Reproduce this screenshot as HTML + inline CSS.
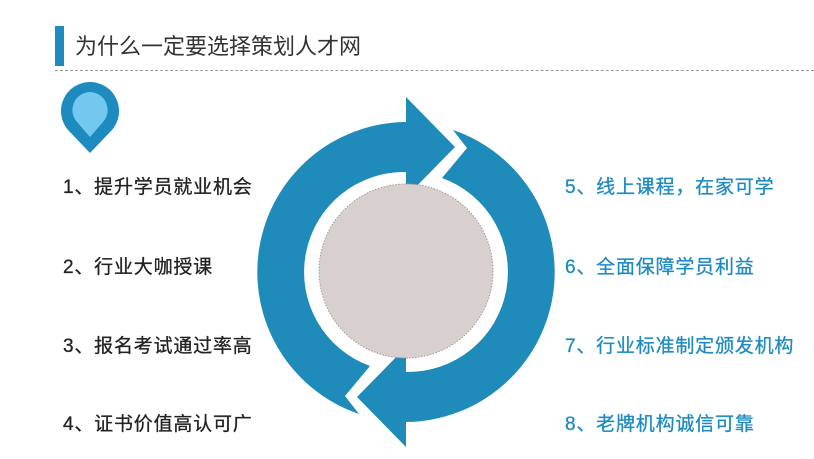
<!DOCTYPE html>
<html><head><meta charset="utf-8"><style>
html,body{margin:0;padding:0;background:#fff;}
body{width:814px;height:459px;position:relative;overflow:hidden;font-family:"Liberation Sans","Noto Sans CJK SC",sans-serif;}
.t{position:absolute;font-size:19px;white-space:nowrap;line-height:20px;letter-spacing:0.8px;-webkit-text-stroke:0.3px;}
.l{left:63px;color:#222;}
.r{left:565px;color:#1e8bc0;}
</style></head><body>
<div style="position:absolute;left:55px;top:26px;width:9px;height:40px;background:#1e8bc0"></div>
<div style="position:absolute;left:75px;top:33px;font-size:22px;color:#333;line-height:28px;white-space:nowrap">为什么一定要选择策划人才网</div>
<div style="position:absolute;left:55px;top:70px;width:759px;border-top:1px dashed #999"></div>
<svg width="814" height="459" style="position:absolute;left:0;top:0">
<path d="M90 82 A29 29 0 0 1 111 131 L90 153 L69 131 A29 29 0 0 1 90 82Z" fill="#1e8bc0"/>
<path d="M90 92 A18 18 0 0 1 103 122 L90 137 L77 122 A18 18 0 0 1 90 92Z" fill="#72c8ef"/>
<path d="M406 122 A150 150 0 0 0 359 414 L345 396 L370 366 A100 100 0 0 1 406 172Z" fill="#1e8bbb"/>
<polygon points="406,97 455,147 406,197" fill="#1e8bbb"/>
<path d="M453 130 A150 150 0 0 1 406 422 L406 372 A100 100 0 0 0 442 178 L467 148Z" fill="#1e8bbb"/>
<polygon points="406,447 357,397 406,347" fill="#1e8bbb"/>
<circle cx="406" cy="271" r="87" fill="#d8cfcf" stroke="#a09a9a" stroke-width="1" stroke-dasharray="1.5 1.5"/>
</svg>
<div class="t l" style="top:178px">1、提升学员就业机会</div>
<div class="t l" style="top:258px">2、行业大咖授课</div>
<div class="t l" style="top:337px">3、报名考试通过率高</div>
<div class="t l" style="top:415px">4、证书价值高认可广</div>
<div class="t r" style="top:178px">5、线上课程，在家可学</div>
<div class="t r" style="top:258px">6、全面保障学员利益</div>
<div class="t r" style="top:337px">7、行业标准制定颁发机构</div>
<div class="t r" style="top:415px">8、老牌机构诚信可靠</div>
</body></html>
